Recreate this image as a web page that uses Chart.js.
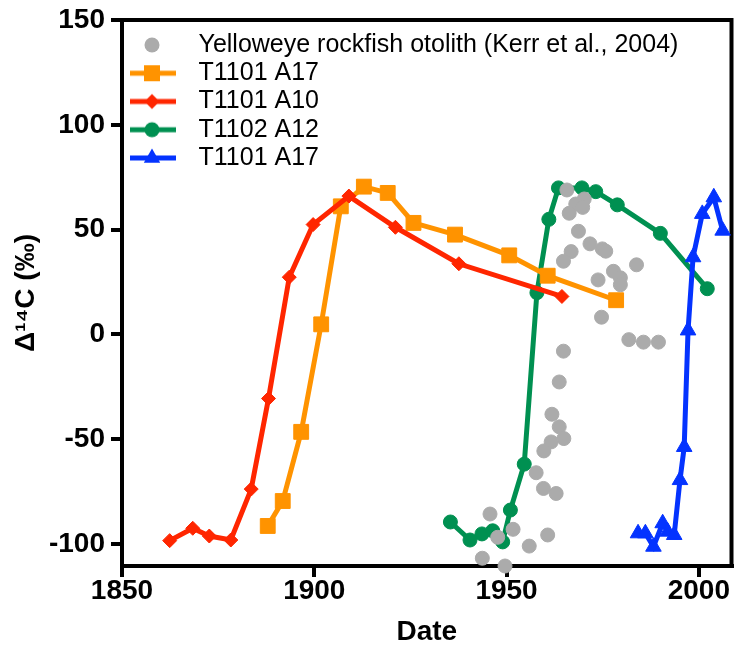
<!DOCTYPE html>
<html>
<head>
<meta charset="utf-8">
<script src="https://cdn.jsdelivr.net/npm/chart.js@4.4.1/dist/chart.umd.min.js"></script>
<style>
  html, body { margin: 0; padding: 0; background: #fff; }
  #wrap { width: 743px; height: 656px; }
</style>
</head>
<body>
<div id="wrap"><canvas id="chart-d14c" width="743" height="656"></canvas></div>
<script>
// Δ14C vs date: otolith reference points plus four sample series.
const FONT = '"Liberation Sans", Arial, Helvetica, sans-serif';

const xTicks = [1850, 1900, 1950, 2000];
const yTicks = [-100, -50, 0, 50, 100, 150];

const seriesLabels = [
    'Yelloweye rockfish otolith (Kerr et al., 2004)',
    'T1101 A17',
    'T1101 A10',
    'T1102 A12',
    'T1101 A17',
];

// gray reference points
const grayYear = [1965.7, 1968.0, 1970.2, 1969.8, 1966.3, 1968.7, 1971.7, 1974.9, 1975.8, 1966.8,
    1964.8, 1983.8, 1977.8, 1979.6, 1973.8, 1979.6, 1974.7, 1981.8, 1985.6, 1989.5,
    1964.8, 1963.7, 1961.8, 1963.7, 1964.9, 1961.6, 1959.7, 1957.7, 1959.6, 1962.9,
    1945.7, 1951.7, 1947.7, 1960.7, 1955.9, 1943.7, 1949.6];
const grayD14C = [68.9, 62.2, 64.6, 60.6, 57.8, 49.2, 43.2, 40.8, 39.7, 39.5,
    34.9, 33.2, 30.1, 27.0, 26.0, 23.7, 8.2, -2.5, -3.7, -3.7,
    -8.0, -22.7, -38.1, -44.1, -49.7, -51.3, -55.6, -66.0, -73.5, -75.9,
    -85.7, -93.0, -96.8, -95.7, -101.0, -106.8, -110.5];

const orangeYear = [1887.9, 1891.8, 1896.6, 1901.8, 1906.9, 1912.9, 1919.1, 1925.8, 1936.6, 1950.7, 1960.7, 1978.5];
const orangeD14C = [-91.4, -79.5, -46.5, 4.8, 61.1, 70.5, 67.5, 53.2, 47.6, 37.7, 28.0, 16.3];

const redYear = [1862.4, 1868.4, 1872.7, 1878.3, 1883.6, 1888.1, 1893.5, 1899.7, 1909.0, 1921.1, 1937.6, 1964.4];
const redD14C = [-98.4, -92.5, -96.2, -98.1, -73.8, -30.6, 27.3, 52.4, 66.0, 51.1, 33.7, 18.1];

const greenYear = [1935.4, 1940.5, 1943.6, 1946.4, 1949.0, 1951.0, 1954.6, 1957.9, 1961.0, 1963.5, 1969.6, 1973.2, 1978.8, 1990.0, 2002.2];
const greenD14C = [-89.5, -98.1, -95.2, -93.7, -99.0, -83.8, -61.9, 19.9, 54.9, 69.9, 69.9, 68.1, 61.8, 48.2, 21.8];

const blueYear = [1984.2, 1986.1, 1988.2, 1990.6, 1991.9, 1993.6, 1995.1, 1996.2, 1997.2, 1998.5, 2000.9, 2003.9, 2006.2];
const blueD14C = [-94.9, -94.9, -101.3, -90.1, -94.1, -95.7, -69.5, -53.7, 1.9, 36.8, 57.5, 65.4, 49.5];

const GRAY = '#ABABAB';
const ORANGE = '#FF9300';
const RED = '#FF2600';
const GREEN = '#009051';
const BLUE = '#0433FF';

function pts(xs, ys) {
    return xs.map((x, i) => ({ x: x, y: ys[i] }));
}

// legend sample: short line + marker, drawn into a small canvas
function legendIcon(color, marker, withLine) {
    const c = document.createElement('canvas');
    c.width = 60;
    c.height = 26;
    const g = c.getContext('2d');
    const cx = 26, cy = 13;
    g.fillStyle = color;
    g.strokeStyle = color;
    if (withLine) {
        g.lineWidth = 5;
        g.beginPath();
        g.moveTo(4, cy);
        g.lineTo(50, cy);
        g.stroke();
    }
    g.beginPath();
    if (marker === 'circle') {
        g.arc(cx, cy, 7.5, 0, Math.PI * 2);
    } else if (marker === 'rect') {
        g.rect(cx - 8, cy - 8, 16, 16);
    } else if (marker === 'rectRot') {
        g.moveTo(cx, cy - 7.5);
        g.lineTo(cx + 7.5, cy);
        g.lineTo(cx, cy + 7.5);
        g.lineTo(cx - 7.5, cy);
        g.closePath();
    } else if (marker === 'triangle') {
        g.moveTo(cx, cy - 9.5);
        g.lineTo(cx + 8.2, cy + 4.8);
        g.lineTo(cx - 8.2, cy + 4.8);
        g.closePath();
    }
    g.fill();
    return c;
}

const legendIcons = [
    legendIcon(GRAY, 'circle', false),
    legendIcon(ORANGE, 'rect', true),
    legendIcon(RED, 'rectRot', true),
    legendIcon(GREEN, 'circle', true),
    legendIcon(BLUE, 'triangle', true),
];

function lineSet(label, data, color, style, radius, order) {
    return {
        label: label,
        data: data,
        showLine: true,
        borderColor: color,
        backgroundColor: color,
        borderWidth: 5,
        pointStyle: style,
        pointRadius: radius,
        pointBorderWidth: 1,
        pointBackgroundColor: color,
        pointBorderColor: color,
        clip: false,
        order: order,
    };
}

// top and right edges of the frame
const framePlugin = {
    id: 'frame',
    beforeDatasetsDraw(chart) {
        const { ctx, chartArea: a } = chart;
        ctx.save();
        ctx.strokeStyle = '#000';
        ctx.lineWidth = 4;
        ctx.beginPath();
        ctx.moveTo(a.left, a.top);
        ctx.lineTo(a.right, a.top);
        ctx.lineTo(a.right, a.bottom);
        ctx.stroke();
        ctx.restore();
    },
};

// put the legend block inside the plot, upper left
const legendPlace = {
    id: 'legendPlace',
    afterLayout(chart) {
        const lg = chart.legend;
        if (!lg) return;
        const w = lg.width, h = lg.height;
        lg.left = 122.75;
        lg.top = 29.25;
        lg.right = lg.left + w;
        lg.bottom = lg.top + h;
    },
};

const axisCommon = {
    type: 'linear',
    border: { display: true, color: '#000', width: 4 },
    grid: {
        drawOnChartArea: false,
        drawTicks: true,
        tickLength: 11,
        tickWidth: 4,
        tickColor: '#000',
        color: '#000',
        lineWidth: 4,
    },
};

new Chart(document.getElementById('chart-d14c'), {
    type: 'scatter',
    data: {
        datasets: [
            {
                label: seriesLabels[0],
                data: pts(grayYear, grayD14C),
                showLine: false,
                backgroundColor: GRAY,
                borderColor: GRAY,
                pointStyle: 'circle',
                pointRadius: 7,
                pointBorderWidth: 1,
                clip: false,
                order: 0,
            },
            lineSet(seriesLabels[1], pts(orangeYear, orangeD14C), ORANGE, 'rect', 10.5, 3),
            lineSet(seriesLabels[2], pts(redYear, redD14C), RED, 'rectRot', 7, 2),
            lineSet(seriesLabels[3], pts(greenYear, greenD14C), GREEN, 'circle', 7, 4),
            lineSet(seriesLabels[4], pts(blueYear, blueD14C), BLUE, 'triangle', 9, 1),
        ],
    },
    options: {
        responsive: false,
        animation: false,
        layout: { padding: { top: 18, right: 6, bottom: 0, left: 0 } },
        plugins: {
            tooltip: { enabled: false },
            legend: {
                position: 'chartArea',
                align: 'start',
                labels: {
                    usePointStyle: true,
                    pointStyleWidth: 60,
                    padding: 3.25,
                    color: '#000',
                    font: { family: FONT, size: 25 },
                    generateLabels: chart => chart.data.datasets.map((ds, i) => ({
                        text: ds.label,
                        pointStyle: legendIcons[i],
                        fillStyle: ds.backgroundColor,
                        strokeStyle: ds.borderColor,
                        lineWidth: 0,
                        hidden: false,
                        datasetIndex: i,
                        fontColor: '#000',
                    })),
                },
            },
        },
        scales: {
            x: {
                ...axisCommon,
                position: 'bottom',
                min: 1850,
                max: 2008.5,
                afterBuildTicks: s => { s.ticks = xTicks.map(v => ({ value: v })); },
                afterFit: s => { s.height = 90; },
                ticks: {
                    color: '#000',
                    padding: 0,
                    maxRotation: 0,
                    autoSkip: false,
                    callback: v => String(v),
                    font: { family: FONT, size: 28, weight: 'bold', lineHeight: 1 },
                },
                title: {
                    display: true,
                    text: 'Date',
                    color: '#000',
                    font: { family: FONT, size: 28, weight: 'bold', lineHeight: 1 },
                    padding: { top: 0, bottom: 10 },
                },
            },
            y: {
                ...axisCommon,
                position: 'left',
                min: -110.5,
                max: 150,
                afterBuildTicks: s => { s.ticks = yTicks.map(v => ({ value: v })); },
                afterFit: s => { s.width = 122; },
                ticks: {
                    color: '#000',
                    padding: 6,
                    autoSkip: false,
                    callback: v => String(v),
                    font: { family: FONT, size: 28, weight: 'bold', lineHeight: 1 },
                },
                title: {
                    display: true,
                    text: 'Δ¹⁴C (‰)',
                    color: '#000',
                    font: { family: FONT, size: 28, weight: 'bold', lineHeight: 1 },
                    padding: { top: 12, bottom: 0 },
                },
            },
        },
    },
    plugins: [framePlugin, legendPlace],
});
</script>
</body>
</html>
